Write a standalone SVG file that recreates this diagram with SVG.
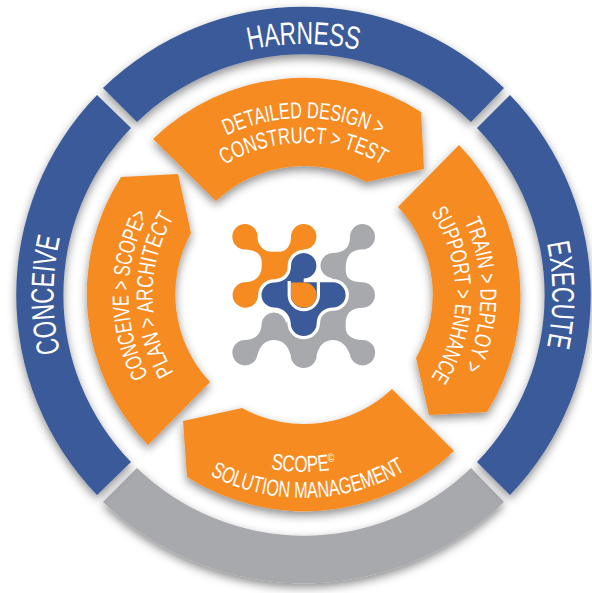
<svg xmlns="http://www.w3.org/2000/svg" width="592" height="593" viewBox="0 0 592 593">
<style>
.blue{fill:#3b5a99}.orange{fill:#f68b21}.grey{fill:#a7a9ac}
.t{font-family:"Liberation Sans",sans-serif;fill:#fff;text-anchor:middle}
.big{font-size:32px}.small{font-size:23px}
</style>
<defs>
<filter id="sh" x="-20%" y="-20%" width="140%" height="140%"><feDropShadow dx="0" dy="4" stdDeviation="5" flood-color="#000" flood-opacity="0.45"/></filter>
<path id="pHarness" d="M52.5,295A251,251 0 0 1 554.5,295"/>
<path id="pExecute" d="M303.5,46A249,249 0 0 1 303.5,544"/>
<path id="pConceive" d="M303.5,545A250,250 0 0 1 303.5,45"/>
<path id="pT1" d="M126.5,295A177,177 0 0 1 480.5,295"/>
<path id="pT2" d="M151.5,295A152,152 0 0 1 455.5,295"/>
<path id="pR1" d="M303.5,118A177,177 0 0 1 303.5,472"/>
<path id="pR2" d="M303.5,143A152,152 0 0 1 303.5,447"/>
<path id="pL1" d="M303.5,470A175,175 0 0 1 303.5,120"/>
<path id="pL2" d="M303.5,446A151,151 0 0 1 303.5,144"/>
<path id="pB1" d="M126.5,295A177,177 0 0 0 480.5,295"/>
<path id="pB2" d="M100.5,295A203,203 0 0 0 506.5,295"/>
</defs>
<g id="ring-solution"><path class="grey" filter="url(#sh)" d="M504,502A288,288 0 0 1 103,502L137,468A240,240 0 0 0 471,468Z"/></g>
<g id="ring-harness"><path class="blue" filter="url(#sh)" d="M103,88A288,288 0 0 1 504,88L471,122A240,240 0 0 0 137,122Z"/><text class="t big"><textPath href="#pHarness" startOffset="50%" textLength="110" lengthAdjust="spacingAndGlyphs">HARNESS</textPath></text></g>
<g id="ring-execute"><path class="blue" filter="url(#sh)" d="M510,95A288,288 0 0 1 510,495L477,462A240,240 0 0 0 477,128Z"/><text class="t big"><textPath href="#pExecute" startOffset="50%" textLength="104" lengthAdjust="spacingAndGlyphs">EXECUTE</textPath></text></g>
<g id="ring-conceive"><path class="blue" filter="url(#sh)" d="M97,495A288,288 0 0 1 97,95L131,128A240,240 0 0 0 131,462Z"/><text class="t big"><textPath href="#pConceive" startOffset="50%" textLength="116" lengthAdjust="spacingAndGlyphs">CONCEIVE</textPath></text></g>
<g id="seg-design"><path class="orange" filter="url(#sh)" d="M153,139A217,217 0 0 1 421,112L424,169L366,182A128,128 0 0 0 216,201Z"/>
<text class="t small"><textPath href="#pT1" startOffset="50%" textLength="159" lengthAdjust="spacingAndGlyphs">DETAILED DESIGN &gt;</textPath></text>
<text class="t small"><textPath href="#pT2" startOffset="50%" textLength="166" lengthAdjust="spacingAndGlyphs">CONSTRUCT &gt; TEST</textPath></text></g>
<g id="seg-train"><path class="orange" filter="url(#sh)" d="M459,145A217,217 0 0 1 487,412L429,415L416,358A128,128 0 0 0 398,207Z"/>
<text class="t small"><textPath href="#pR1" startOffset="50%" textLength="152" lengthAdjust="spacingAndGlyphs">TRAIN &gt; DEPLOY &gt;</textPath></text>
<text class="t small"><textPath href="#pR2" startOffset="50%" textLength="175" lengthAdjust="spacingAndGlyphs">SUPPORT &gt; ENHANCE</textPath></text></g>
<g id="seg-conceive"><path class="orange" filter="url(#sh)" d="M148,445A217,217 0 0 1 121,177L178,174L191,233A128,128 0 0 0 210,382Z"/>
<text class="t small"><textPath href="#pL1" startOffset="50%" textLength="168" lengthAdjust="spacingAndGlyphs">CONCEIVE &gt; SCOPE&gt;</textPath></text>
<text class="t small"><textPath href="#pL2" startOffset="50%" textLength="163" lengthAdjust="spacingAndGlyphs">PLAN &gt; ARCHITECT</textPath></text></g>
<g id="seg-scope"><path class="orange" filter="url(#sh)" d="M183,421L242,408A128,128 0 0 0 392,389L454,451A217,217 0 0 1 187,477Z"/>
<text class="t small"><textPath href="#pB1" startOffset="50%" textLength="66" lengthAdjust="spacingAndGlyphs">SCOPE<tspan font-size="12" dy="-8">©</tspan></textPath></text>
<text class="t small"><textPath href="#pB2" startOffset="50.75%" textLength="204" lengthAdjust="spacingAndGlyphs">SOLUTION MANAGEMENT</textPath></text></g>
<g id="logo">
<path class="grey" d="M362.3,224A12.7,12.7 0 0 1 362.3,249.4C351,249.4 345.7,256 345.7,268V270C345.7,278 351,282.3 362.3,282.3A12.7,12.7 0 0 1 362.3,307.7C351,307.7 345.7,314 345.7,323V328C345.7,334 351,340 362.3,340A12.7,12.7 0 1 1 350,355C347,345 340,340 333,340C325,340 319,345 316.7,355A13,13 0 0 1 290.7,355C288,345 282,340 274,340C266,340 260,345 257.5,355A12.7,12.7 0 1 1 245,340C255,340 261.7,334 261.7,323A12.3,12.3 0 0 1 286,323L300,300L333,278A12.5,12.5 0 0 1 333,253C343,253 350,248 350,237A12.7,12.7 0 0 1 362.3,224Z"/>
<path class="orange" d="M245,224A12.7,12.7 0 0 1 257.5,238C258,246 264,251.7 272,251.7H279C286,251.7 291,246 291,237A12.7,12.7 0 1 1 303.7,249.4L295,290L258,295A12.7,12.7 0 1 1 245,282.3C255,282.3 261.7,276 261.7,266V262C261.7,254 255,249.4 245,249.4A12.7,12.7 0 0 1 245,224Z"/>
<path class="blue" stroke="#fff" stroke-width="6.6" paint-order="stroke" d="M303.7,253A12.7,12.7 0 0 1 303.7,278.4V282.3H333A12.6,12.6 0 0 1 333,307.5C325,307.5 317,313 316.7,323A13,13 0 0 1 290.7,323C290,314 283,307.5 274,307.5A12.5,12.5 0 0 1 274,282.5C283,282.5 291,277 291,265.7A12.7,12.7 0 0 1 303.7,253Z"/>
<path fill="none" stroke="#fff" stroke-width="3.2" d="M289.2,281V295A14.6,14.6 0 0 0 318.4,295V282"/>
<path class="orange" d="M291,282.5H304A12.7,12.7 0 0 1 316.7,295A12.7,12.7 0 0 1 304,307.7A13,12.7 0 0 1 291,295Z"/>
</g>
</svg>
